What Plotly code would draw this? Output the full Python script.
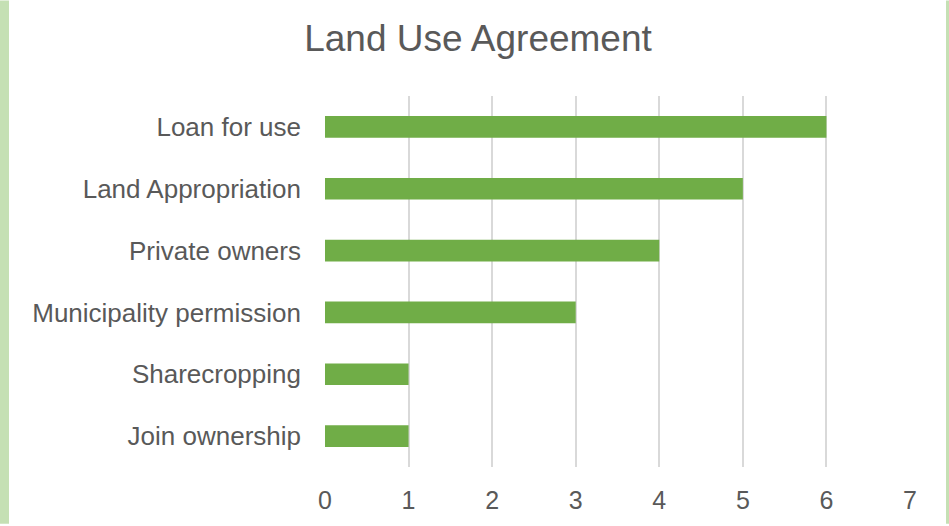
import plotly.graph_objects as go

categories = ["Loan for use", "Land Appropriation", "Private owners",
              "Municipality permission", "Sharecropping", "Join ownership"]
counts = [6, 5, 4, 3, 1, 1]
x_ticks = [0, 1, 2, 3, 4, 5, 6, 7]

W, H = 949, 526
L, R, T, B = 325, 39, 96, 57
pw = W - L - R
ph = H - T - B


def px_x(p):
    return (p - L) / pw


def px_y(p):
    return 1 - (p - T) / ph


fig = go.Figure(go.Bar(
    x=counts[::-1],
    y=categories[::-1],
    orientation="h",
    marker=dict(color="#70ad47", line=dict(width=0)),
))

border = "#c5e0b4"
fig.update_layout(
    width=W, height=H,
    margin=dict(l=L, r=R, t=T, b=B),
    paper_bgcolor="white", plot_bgcolor="white",
    bargap=0.65,
    showlegend=False,
    font=dict(family="Liberation Sans, Arial", size=26, color="#595959"),
    title=dict(text="Land Use Agreement", x=478 / W, xanchor="center",
               y=1 - 38 / H, yanchor="middle",
               font=dict(size=37, color="#595959")),
    shapes=[
        dict(type="rect", xref="paper", yref="paper",
             x0=px_x(0), x1=px_x(9), y0=px_y(H), y1=px_y(0),
             fillcolor=border, line=dict(width=0), layer="below"),
        dict(type="rect", xref="paper", yref="paper",
             x0=px_x(946), x1=px_x(W), y0=px_y(H), y1=px_y(0),
             fillcolor=border, line=dict(width=0), layer="below"),
    ],
)
fig.update_xaxes(range=[0, 7], tickvals=x_ticks, showgrid=True,
                 gridcolor="#d9d9d9", gridwidth=2, zeroline=False,
                 showline=False, ticks="", ticklabelstandoff=16,
                 tickfont=dict(size=25))
fig.update_yaxes(showgrid=False, showline=False, ticks="",
                 ticklabelstandoff=23, tickfont=dict(size=26))

fig.write_html("out.html", config={"displayModeBar": False},
               post_script="document.body.style.margin='0';")
